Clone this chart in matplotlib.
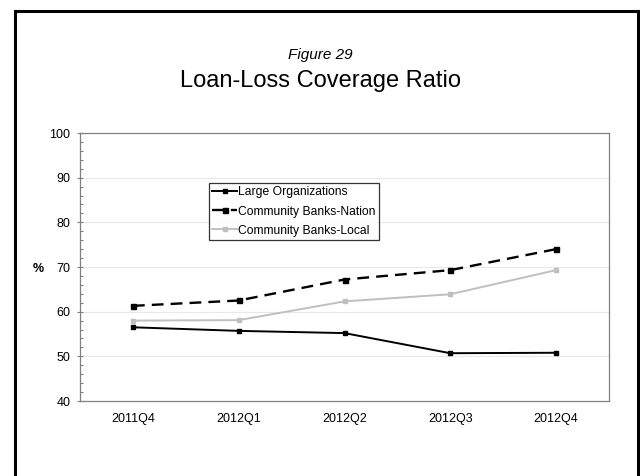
import matplotlib.pyplot as plt
from matplotlib.patches import Rectangle
from matplotlib.ticker import MultipleLocator

plt.rcParams['font.family'] = ['Liberation Sans', 'DejaVu Sans']

# Data
quarters = ['2011Q4', '2012Q1', '2012Q2', '2012Q3', '2012Q4']
large_orgs = [56.5, 55.7, 55.2, 50.7, 50.8]
cb_nation = [61.3, 62.5, 67.2, 69.3, 74.0]
cb_local = [58.0, 58.1, 62.3, 63.9, 69.3]

fig = plt.figure(figsize=(6.4, 4.76), dpi=100)
ax = fig.add_axes([80 / 640, 1 - 401 / 476, 529 / 640, 268 / 476])

x = range(len(quarters))
ax.plot(x, large_orgs, color='black', lw=1.4, marker='s', ms=3,
        label='Large Organizations')
ax.plot(x, cb_nation, color='black', lw=1.7, ls=(0, (5, 3)), marker='s', ms=3.6,
        label='Community Banks-Nation')
ax.plot(x, cb_local, color='#bfbfbf', lw=1.4, marker='s', ms=3,
        label='Community Banks-Local')

ax.set_xlim(-0.5, len(quarters) - 0.5)
ax.set_ylim(40, 100)
ax.set_xticks(list(x))
ax.set_xticklabels(quarters)
ax.yaxis.set_major_locator(MultipleLocator(10))
ax.yaxis.set_minor_locator(MultipleLocator(2))
ax.tick_params(axis='x', length=0, pad=8.5, labelsize=9)
ax.tick_params(axis='y', which='major', direction='inout', length=4,
               width=0.8, color='#808080', labelsize=9, pad=5)
ax.tick_params(axis='y', which='minor', direction='in', length=2.5,
               width=0.8, color='#808080')
ax.grid(axis='y', which='major', color='#e8e8e8', lw=0.8)
ax.set_axisbelow(True)
for s in ax.spines.values():
    s.set_color('#808080')
    s.set_linewidth(0.9)

fig.text(38 / 640, 1 - 269 / 476, '%', fontsize=9, fontweight='bold',
         ha='center', va='center')

leg = ax.legend(loc='upper left', bbox_to_anchor=(0.244, 0.813), fontsize=8.7,
                frameon=True, fancybox=False, edgecolor='black',
                borderpad=0.28, labelspacing=0.58, handlelength=2.0,
                handletextpad=0.1, borderaxespad=0)
leg.get_frame().set_linewidth(0.9)

fig.text(0.5, 1 - 59 / 476, 'Figure 29', ha='center', va='baseline',
         fontsize=11, style='italic')
fig.text(0.5, 1 - 87 / 476, 'Loan-Loss Coverage Ratio', ha='center',
         va='baseline', fontsize=17)

fig.patches.append(Rectangle((15 / 640, -0.1), 623 / 640, 1.1 - 11 / 476,
                             transform=fig.transFigure, fill=False,
                             edgecolor='black', lw=2.2))

fig.savefig('out.png', dpi=100)
